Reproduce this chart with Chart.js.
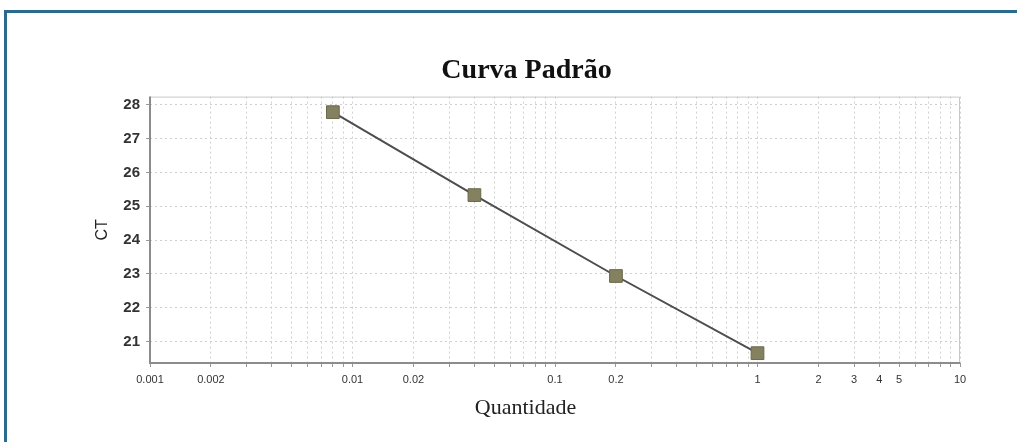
<!DOCTYPE html>
<html>
<head>
<meta charset="utf-8">
<script src="https://cdn.jsdelivr.net/npm/chart.js@4"></script>
<style>
  html, body { margin: 0; padding: 0; background: #fff; }
  #wrap { position: relative; width: 1017px; height: 442px; overflow: hidden; }
  #frame { position: absolute; left: 4px; top: 10px; width: 1100px; height: 500px;
           border-left: 3px solid #2a6a8c; border-top: 3px solid #2a6a8c; }
  canvas { position: absolute; left: 0; top: 0; }
</style>
</head>
<body>
<div id="wrap">
  <div id="frame"></div>
  <canvas id="chart" width="1017" height="442"></canvas>
</div>
<script>
// data
const quantidade = [0.008, 0.04, 0.2, 1];
const ct = [27.78, 25.33, 22.94, 20.66];

// axis ticks
const xTickLabels = [0.001, 0.002, 0.01, 0.02, 0.1, 0.2, 1, 2, 3, 4, 5, 10];
const xDecades = [0.001, 0.01, 0.1, 1];
const yTicks = [21, 22, 23, 24, 25, 26, 27, 28];

// grid lines at every 1..9 x 10^k
const xGrid = [];
xDecades.forEach(d => { for (let m = 1; m <= 9; m++) xGrid.push(+(m * d).toPrecision(3)); });
xGrid.push(10);

const serif = '"Liberation Serif", "Times New Roman", serif';
const sans = 'Arial, "Liberation Sans", sans-serif';

const boxPlugin = {
  id: 'plotBox',
  afterDraw(chart) {
    const a = chart.chartArea, ctx = chart.ctx;
    ctx.save();
    ctx.strokeStyle = '#c8c8c8';
    ctx.lineWidth = 1;
    ctx.beginPath();
    ctx.moveTo(a.left, a.top + 0.5);
    ctx.lineTo(a.right - 0.5, a.top + 0.5);
    ctx.lineTo(a.right - 0.5, a.bottom);
    ctx.stroke();
    ctx.strokeStyle = '#8c8c8c';
    ctx.lineWidth = 2;
    ctx.beginPath();
    ctx.moveTo(a.left, a.top);
    ctx.lineTo(a.left, a.bottom);
    ctx.lineTo(a.right, a.bottom);
    ctx.stroke();
    // x axis title, centred like the original page (a bit left of the plot centre)
    ctx.fillStyle = '#222';
    ctx.font = '22px ' + serif;
    ctx.textAlign = 'center';
    ctx.textBaseline = 'middle';
    ctx.fillText('Quantidade', chart.width / 2 + 17, a.bottom + 45);
    ctx.restore();
  }
};

new Chart(document.getElementById('chart').getContext('2d'), {
  type: 'line',
  data: {
    datasets: [{
      data: quantidade.map((q, i) => ({ x: q, y: ct[i] })),
      borderColor: '#4d4d4d',
      borderWidth: 2,
      pointStyle: 'rect',
      pointRadius: 9,
      pointBackgroundColor: '#83815f',
      pointBorderColor: '#6a694c',
      pointBorderWidth: 1,
      tension: 0
    }]
  },
  options: {
    responsive: false,
    animation: false,
    layout: { padding: { left: 93, right: 57, top: 0, bottom: 23 } },
    plugins: {
      legend: { display: false },
      tooltip: { enabled: false },
      title: {
        display: true,
        text: 'Curva Padrão',
        color: '#111',
        font: { family: serif, size: 28, weight: 'bold' },
        padding: { top: 54, bottom: 9 }
      }
    },
    scales: {
      x: {
        type: 'logarithmic',
        min: 0.001,
        max: 10,
        afterBuildTicks: s => { s.ticks = xGrid.map(v => ({ value: v })); },
        afterFit: s => { s.height = 56; },
        grid: { color: '#cfcfcf', tickLength: 4, drawTicks: true, tickColor: '#999' },
        border: { display: false, dash: [2, 3] },
        ticks: {
          autoSkip: false, maxRotation: 0, padding: 6,
          color: '#333',
          font: { family: sans, size: 11 },
          callback: v => xTickLabels.some(t => Math.abs(t - v) < 1e-9) ? String(v) : ''
        }
      },
      y: {
        min: 20.37,
        max: 28.24,
        afterBuildTicks: s => { s.ticks = yTicks.map(v => ({ value: v })); },
        afterFit: s => { s.width = 57; },
        grid: { color: '#cfcfcf', tickLength: 4, tickColor: '#999' },
        border: { display: false, dash: [2, 3] },
        ticks: {
          padding: 6, color: '#333',
          font: { family: sans, size: 15, weight: 'bold' }
        },
        title: {
          display: true, text: 'CT', color: '#222',
          font: { family: sans, size: 16 },
          padding: 0
        }
      }
    }
  },
  plugins: [boxPlugin]
});
</script>
</body>
</html>
